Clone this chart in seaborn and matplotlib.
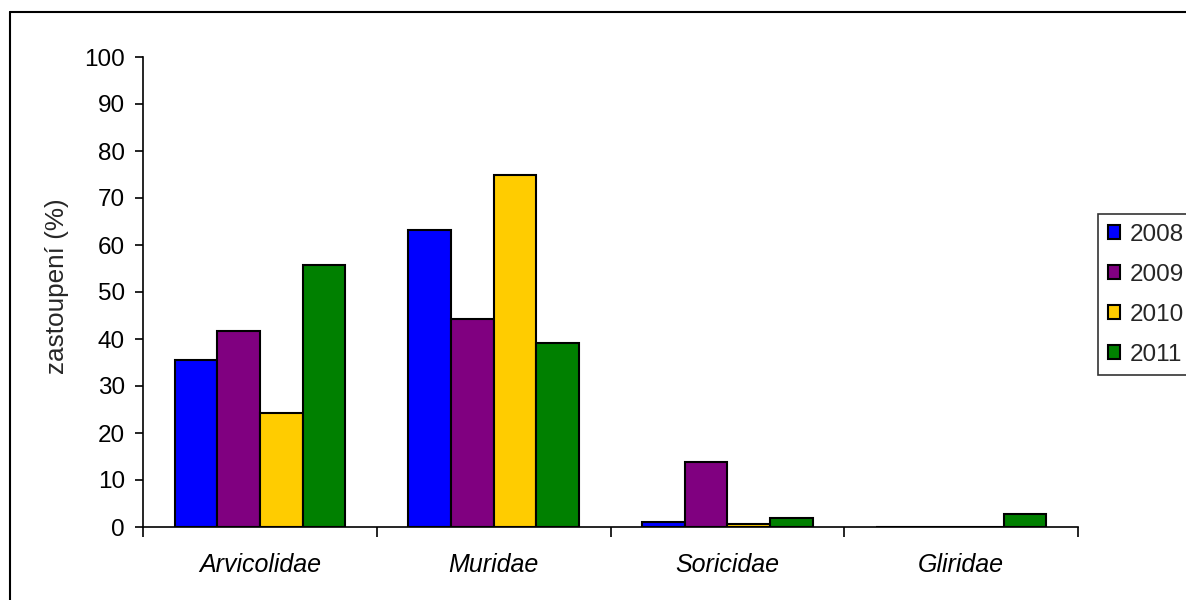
"""Grouped bar chart of small mammal family shares by year"""

import matplotlib

matplotlib.use("Agg")
import matplotlib.pyplot as plt
import pandas as pd
import seaborn as sns
from matplotlib.lines import Line2D

families = ["Arvicolidae", "Muridae", "Soricidae", "Gliridae"]
years = ["2008", "2009", "2010", "2011"]
share2008 = [35.5, 63.2, 1.1, 0.0]
share2009 = [41.7, 44.3, 13.8, 0.0]
share2010 = [24.3, 74.9, 0.6, 0.0]
share2011 = [55.7, 39.1, 1.9, 2.8]
colors = ["#0000FF", "#800080", "#FFCC00", "#008000"]


def main():
    """Go Main."""
    df = pd.DataFrame(
        {"2008": share2008, "2009": share2009, "2010": share2010,
         "2011": share2011},
        index=families,
    )
    df = df.reset_index(names="family").melt(
        id_vars="family", var_name="year", value_name="share"
    )

    sns.set_theme(style="white")
    plt.rcParams["font.family"] = ["Liberation Sans", "DejaVu Sans"]

    fig = plt.figure(figsize=(11.86, 6), dpi=100)
    ax = fig.add_axes([143 / 1186, 73 / 600, 935 / 1186, 470 / 600])

    sns.barplot(
        data=df,
        x="family",
        y="share",
        hue="year",
        hue_order=years,
        palette=colors,
        saturation=1,
        width=0.73,
        edgecolor="black",
        linewidth=1.5,
        ax=ax,
    )

    ax.set_xlim(-0.5, 3.5)
    ax.set_ylim(0, 100)
    ax.set_yticks(range(0, 101, 10))
    ax.tick_params(axis="y", labelsize=17.5, length=6, width=1.2,
                   direction="out", left=True, colors="black", pad=7)
    ax.tick_params(axis="x", which="major", length=0, labelsize=18,
                   pad=19, colors="black")
    ax.set_xticks([i - 0.5 for i in range(5)], minor=True)
    ax.tick_params(axis="x", which="minor", length=7, width=1.2,
                   direction="out", bottom=True, colors="black")
    for lab in ax.get_xticklabels():
        lab.set_fontstyle("italic")
    ax.set_xlabel("")
    ax.set_ylabel("zastoupení (%)", fontsize=18.8)
    ax.yaxis.set_label_coords(-0.079, 0.513)
    sns.despine(ax=ax)
    for side in ("left", "bottom"):
        ax.spines[side].set_color("black")
        ax.spines[side].set_linewidth(1.2)

    handles, labels = ax.get_legend_handles_labels()
    ax.legend_.remove()
    leg = fig.legend(
        handles,
        labels,
        loc="upper left",
        bbox_to_anchor=(1098 / 1186, 1 - 214 / 600),
        bbox_transform=fig.transFigure,
        fontsize=17.5,
        frameon=True,
        fancybox=False,
        handlelength=0.5,
        handleheight=0.5,
        handletextpad=0.4,
        labelspacing=0.74,
        borderpad=0.4,
        borderaxespad=0,
    )
    leg.get_frame().set_edgecolor("black")
    leg.get_frame().set_linewidth(1.2)

    # outer chart frame (cut at the right and bottom edges)
    x0, y0 = 10 / 1186, 1 - 12 / 600
    fig.add_artist(Line2D([x0, x0], [0, y0], color="black", lw=1.5,
                          transform=fig.transFigure))
    fig.add_artist(Line2D([x0, 1], [y0, y0], color="black", lw=1.5,
                          transform=fig.transFigure))

    fig.savefig("out.png", dpi=100)


if __name__ == "__main__":
    main()
